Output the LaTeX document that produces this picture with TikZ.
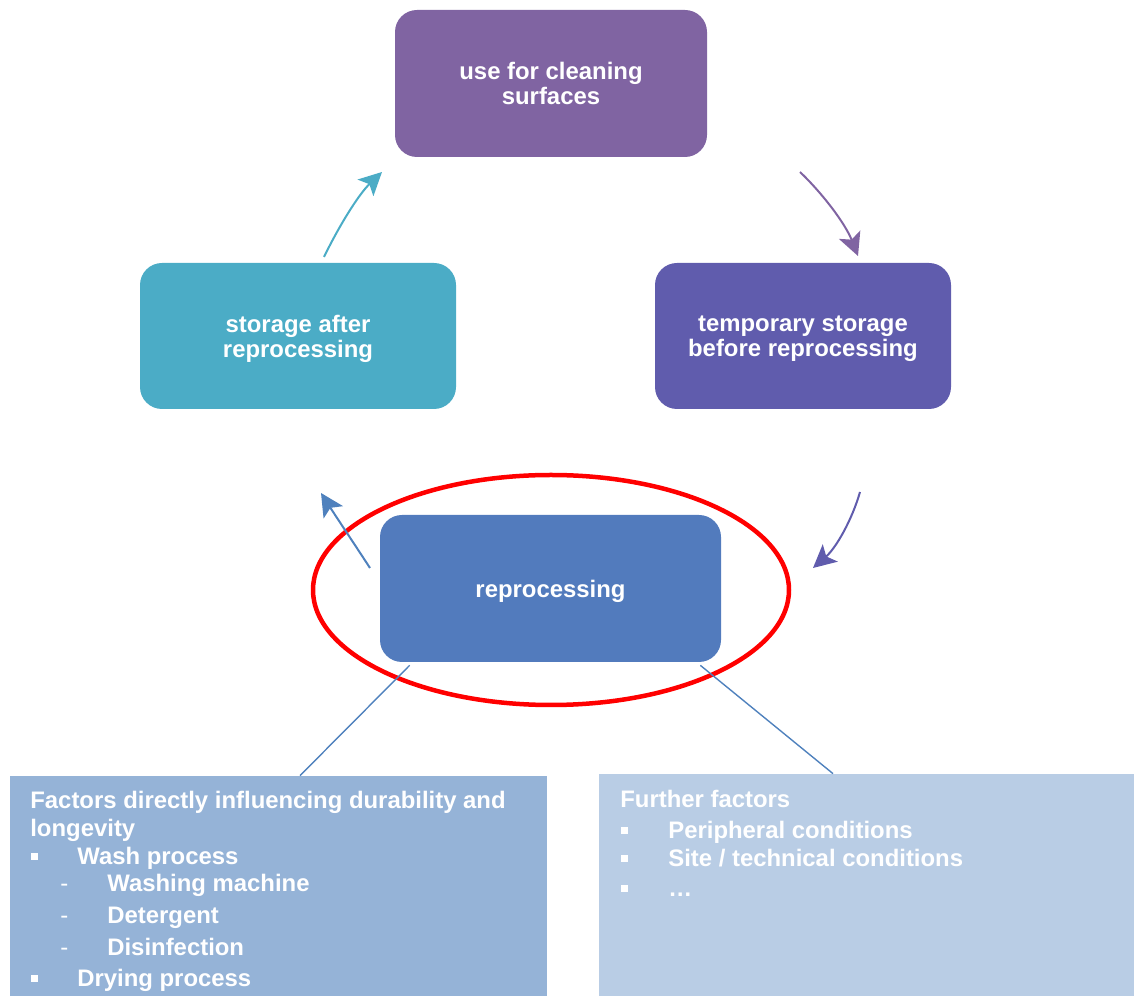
\documentclass[tikz,border=0pt]{standalone}
\usepackage{fontspec}
\setmainfont{Liberation Sans}
\usetikzlibrary{arrows.meta,shapes.geometric,calc}
\newlength\pxu \setlength\pxu{0.02cm}
\definecolor{cUse}{HTML}{8064A2}
\definecolor{cTemp}{HTML}{605CAD}
\definecolor{cStore}{HTML}{4BACC6}
\definecolor{cRep}{HTML}{527BBD}
\definecolor{cLink}{HTML}{4F81BD}
\definecolor{cFac}{HTML}{95B3D7}
\definecolor{cFur}{HTML}{B9CDE5}
\newcommand{\sqbul}{\rule[3pt]{3.6pt}{3.6pt}}
\newcommand{\thindash}{\textmd{-}}
\begin{document}
\begin{tikzpicture}[x=0.02cm, y=-0.02cm,
  stage/.style={rounded corners=0.44cm, text=white, align=center, inner sep=0pt,
    text depth=0pt, font=\fontsize{13.6}{14.2}\selectfont\bfseries},
  panel/.style={inner sep=0pt},
  txt/.style={text=white, inner sep=0pt, anchor=base west,
    font=\fontsize{13.6}{15}\selectfont\bfseries},
  cyc/.style={line width=2\pxu, -{Stealth[length=13pt,width=13pt,inset=3pt]}},
  link/.style={draw=cLink, line width=1.4\pxu}]
\useasboundingbox (0,0) rectangle (1134,996);

% cycle stages
\node[stage, fill=cUse, minimum width=312\pxu, minimum height=147\pxu] (use) at (551,83.5)
  {use for cleaning\\surfaces};
\node[stage, fill=cTemp, minimum width=296\pxu, minimum height=146\pxu] (temp) at (803,336)
  {temporary storage\\before reprocessing};
\node[stage, fill=cStore, minimum width=316\pxu, minimum height=146\pxu] (store) at (298,336)
  {storage after\\reprocessing};
\node[stage, fill=cRep, minimum width=341\pxu, minimum height=147\pxu] (rep) at (550.5,588.5)
  {reprocessing};

% highlight around the reprocessing step
\node[ellipse, draw=red, line width=4.5\pxu, inner sep=0pt,
  minimum width=476\pxu, minimum height=230\pxu] (focus) at (551,590) {};

% factor panels
\node[panel, fill=cFac, minimum width=537\pxu, minimum height=220\pxu] (fac) at (278.5,886) {};
\node[panel, fill=cFur, minimum width=535\pxu, minimum height=222\pxu] (fur) at (866.5,885) {};

% links from the reprocessing step to the panels
\draw[link] ($(rep.south west)+(30,3)$) -- ($(fac.north)+(21.5,0)$);
\draw[link] ($(rep.south east)+(-21,3)$) -- ($(fur.north)+(-33.5,0)$);

% cycle arrows
\coordinate (a1s) at (800,172);  \coordinate (a1e) at (858,256);
\coordinate (a2s) at (860,492);  \coordinate (a2e) at (813,568);
\coordinate (a3s) at (370,568);  \coordinate (a3e) at (321,493);
\coordinate (a4s) at (324,257);  \coordinate (a4e) at (382,172);
\draw[cyc, cUse]   (a1s) .. controls (822,193) and (845,223) .. (a1e);
\draw[cyc, cTemp]  (a2s) .. controls (852,520) and (836,548) .. (a2e);
\draw[cyc, cLink]  (a3s) .. controls (355,545) and (335,515) .. (a3e);
\draw[cyc, cStore] (a4s) .. controls (338,228) and (358,195) .. (a4e);

% left panel text
\node[txt] (f1) at (30,809) {Factors directly influencing durability and};
\node[txt] (f2) at (30,837) {longevity};
\node[txt] (f3) at (31,865) {\makebox[46\pxu][l]{\sqbul}Wash process};
\node[txt] (f4) at (60,892) {\makebox[47\pxu][l]{\thindash}Washing machine};
\node[txt] (f5) at (60,924) {\makebox[47\pxu][l]{\thindash}Detergent};
\node[txt] (f6) at (60,956) {\makebox[47\pxu][l]{\thindash}Disinfection};
\node[txt] (f7) at (31,987) {\makebox[46\pxu][l]{\sqbul}Drying process};

% right panel text
\node[txt] (g1) at (620,808) {Further factors};
\node[txt] (g2) at (621,839) {\makebox[47\pxu][l]{\sqbul}Peripheral conditions};
\node[txt] (g3) at (621,867) {\makebox[47\pxu][l]{\sqbul}Site / technical conditions};
\node[txt] (g4) at (621,897) {\makebox[47\pxu][l]{\sqbul}\dots};
\end{tikzpicture}
\end{document}
